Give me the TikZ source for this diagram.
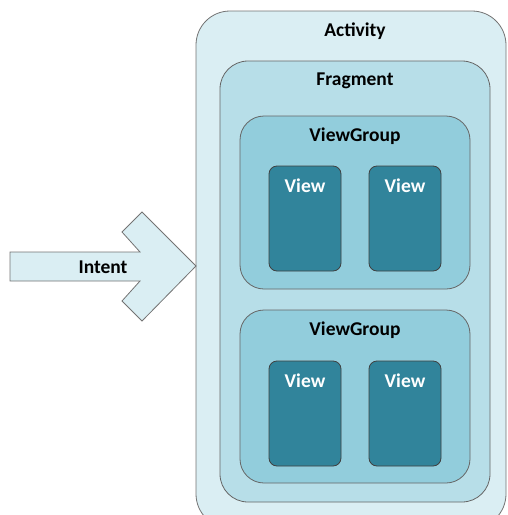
\documentclass[tikz,border=0pt]{standalone}
\usepackage{fontspec}
\setmainfont{Carlito}
\begin{document}
\begin{tikzpicture}[x=1pt,y=-1pt,
  lbl/.style={font=\bfseries\fontsize{19.5}{22}\selectfont, inner sep=0pt},
  actbox/.style={draw=black!55, fill=actfill, line width=0.8pt, rounded corners=34pt},
  fragbox/.style={draw=black!60, fill=fragfill, line width=0.8pt, rounded corners=28pt},
  grpbox/.style={draw=black!60, fill=grpfill, line width=0.8pt, rounded corners=24pt},
  viewbox/.style={draw=black!75, fill=viewfill, line width=0.8pt, rounded corners=8pt},
  arrowshape/.style={draw=black!55, fill=actfill, line width=0.8pt}
]
\definecolor{actfill}{HTML}{DAEEF3}
\definecolor{fragfill}{HTML}{B7DEE8}
\definecolor{grpfill}{HTML}{92CDDC}
\definecolor{viewfill}{HTML}{31849B}

\useasboundingbox (0,0) rectangle (507,515);
\clip (0,0) rectangle (507,515);

% containers, outermost first
\draw[actbox] (196,11) rectangle (506,528);
\node[lbl] (activity) at (355,31) {Activity};

\draw[fragbox] (220,61) rectangle (490,502);
\node[lbl] (fragment) at (355,81) {Fragment};

\draw[grpbox] (240,116) rectangle (470,289);
\node[lbl] (group1) at (355,136) {ViewGroup};

\draw[grpbox] (240,310) rectangle (470,483);
\node[lbl] (group2) at (355,330) {ViewGroup};

% views
\foreach \x/\y/\n in {269/166/a, 369/166/b, 269/361/c, 369/361/d}{
  \draw[viewbox] (\x,\y) rectangle ++(72,105);
  \node[lbl, text=white] (view\n) at (\x+36,\y+20) {View};
}

% incoming intent arrow
\draw[arrowshape] (10,252) -- (140,252) -- (122,232) -- (142,212) -- (196,266)
  -- (142,321) -- (122,301) -- (140,281) -- (10,281) -- cycle;
\node[lbl] (intent) at (103,267) {Intent};
\end{tikzpicture}
\end{document}
